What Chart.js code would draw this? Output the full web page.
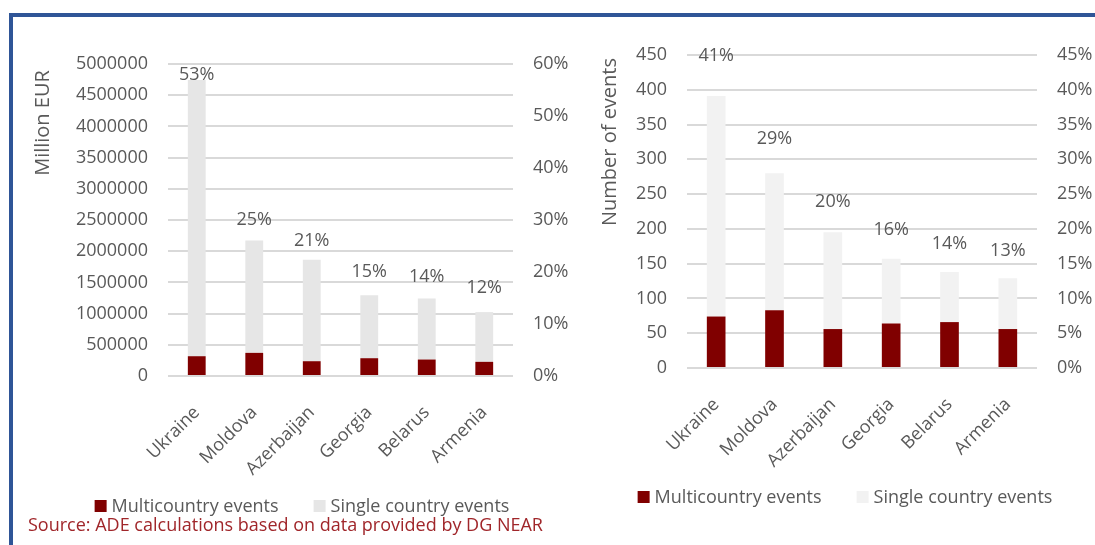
<!DOCTYPE html>
<html>
<head>
<meta charset="utf-8">
<script src="https://cdn.jsdelivr.net/npm/chart.js@4.4.1/dist/chart.umd.min.js"></script>
<style>
  body { margin: 0; background: #fff; width: 1095px; height: 545px; overflow: hidden; position: relative; font-family: 'Open Sans', sans-serif; }
  .frame { position: absolute; left: 9px; top: 13px; right: 0; bottom: 0; border-top: 4px solid #2F5597; border-left: 4px solid #2F5597; }
  #fundsChart { position: absolute; left: 0; top: 0; }
  #eventsChart { position: absolute; left: 590px; top: 0; }
  .source { position: absolute; left: 28px; top: 514px; font-size: 18px; line-height: 20px; color: #A0262A; white-space: nowrap; }
</style>
</head>
<body>
<div class="frame"></div>
<canvas id="fundsChart" width="590" height="545"></canvas>
<canvas id="eventsChart" width="505" height="545"></canvas>
<div class="source">Source: ADE calculations based on data provided by DG NEAR</div>

<script>
// categories shared by both charts
const countries = ['Ukraine', 'Moldova', 'Azerbaijan', 'Georgia', 'Belarus', 'Armenia'];

// left chart: funding (EUR)
const fundsMulti = [317000, 371000, 237000, 285000, 264000, 227000];
const fundsSingle = [4427000, 1802000, 1627000, 1008000, 976000, 797000];
const fundsShare = [0.53, 0.25, 0.21, 0.15, 0.14, 0.12];

// right chart: number of events
const eventsMulti = [74, 83, 56, 64, 66, 56];
const eventsSingle = [317, 197, 139, 93, 72, 73];
const eventsShare = [0.41, 0.29, 0.20, 0.16, 0.14, 0.13];

const legendLabels = ['Multicountry events', 'Single country events'];
const TEXT = '#595959';
const GRID = '#D9D9D9';

Chart.defaults.font.family = "'Open Sans', sans-serif";
Chart.defaults.font.size = 18;
Chart.defaults.color = TEXT;

// share labels above the hidden points, rotated axis title, and a legend
const extrasPlugin = {
    id: 'extras',
    afterDatasetsDraw(chart, args, opts) {
        const ctx = chart.ctx;
        ctx.save();
        ctx.fillStyle = TEXT;
        ctx.textAlign = 'center';
        ctx.textBaseline = 'middle';
        ctx.font = "18px 'Open Sans'";
        chart.data.datasets.forEach((ds, i) => {
            if (ds.type !== 'line') return;
            chart.getDatasetMeta(i).data.forEach((pt, j) => {
                ctx.fillText(Math.round(ds.data[j] * 100) + '%', pt.x, pt.y - opts.labelLift);
            });
        });

        // y axis title
        ctx.save();
        ctx.translate(opts.titleX, opts.titleY);
        ctx.rotate(-Math.PI / 2);
        ctx.font = "20px 'Open Sans'";
        ctx.fillText(opts.title, 0, 0);
        ctx.restore();

        // legend
        const bars = chart.data.datasets.filter(ds => ds.type !== 'line');
        const box = 12, gap = 5, spacing = 35;
        ctx.font = "18px 'Open Sans'";
        const widths = bars.map(ds => box + gap + ctx.measureText(ds.label).width);
        const total = widths.reduce((a, b) => a + b, 0) + spacing * (bars.length - 1);
        let x = opts.legendX - total / 2;
        ctx.textAlign = 'left';
        bars.forEach((ds, i) => {
            ctx.fillStyle = ds.backgroundColor;
            ctx.fillRect(x, opts.legendY - box / 2, box, box);
            ctx.fillStyle = TEXT;
            ctx.fillText(ds.label, x + box + gap, opts.legendY + 1);
            x += widths[i] + spacing;
        });
        ctx.restore();
    }
};

function buildChart(canvasId, s) {
    const ctx = document.getElementById(canvasId).getContext('2d');
    return new Chart(ctx, {
        type: 'bar',
        data: {
            labels: countries,
            datasets: [
                {
                    label: legendLabels[0],
                    data: s.multi,
                    backgroundColor: '#800000',
                    barPercentage: s.barPct,
                    categoryPercentage: 1,
                    yAxisID: 'y'
                },
                {
                    label: legendLabels[1],
                    data: s.single,
                    backgroundColor: s.singleColor,
                    barPercentage: s.barPct,
                    categoryPercentage: 1,
                    yAxisID: 'y'
                },
                {
                    type: 'line',
                    label: 'Share',
                    data: s.share,
                    yAxisID: 'y1',
                    showLine: false,
                    pointRadius: 0,
                    pointHoverRadius: 0
                }
            ]
        },
        options: {
            responsive: false,
            animation: false,
            layout: { padding: s.padding },
            plugins: {
                legend: { display: false },
                tooltip: { enabled: false },
                extras: s.extras
            },
            scales: {
                x: {
                    stacked: true,
                    grid: { display: false },
                    border: { display: false },
                    ticks: { autoSkip: false, maxRotation: 45, minRotation: 45, padding: 18 },
                    afterFit: scale => { scale.height = 100; }
                },
                y: {
                    stacked: true,
                    min: 0,
                    max: s.yMax,
                    grid: { color: GRID, lineWidth: 2, drawTicks: false },
                    border: { display: false },
                    ticks: { stepSize: s.yStep, padding: 20, callback: v => String(v) },
                    afterFit: scale => { scale.width = s.yWidth; }
                },
                y1: {
                    position: 'right',
                    min: 0,
                    max: s.y1Max,
                    grid: { display: false, drawTicks: false },
                    border: { display: false },
                    ticks: { stepSize: s.y1Step, padding: 20, callback: v => Math.round(v * 100) + '%' },
                    afterFit: scale => { scale.width = s.y1Width; }
                }
            }
        },
        plugins: [extrasPlugin]
    });
}

buildChart('fundsChart', {
    multi: fundsMulti,
    single: fundsSingle,
    share: fundsShare,
    singleColor: '#E6E6E6',
    barPct: 0.31,
    yMax: 5000000,
    yStep: 500000,
    y1Max: 0.6,
    y1Step: 0.1,
    yWidth: 148,
    y1Width: 77,
    padding: { left: 20, top: 64, right: 0, bottom: 69 },
    extras: { labelLift: 26, title: 'Million EUR', titleX: 43, titleY: 123, legendX: 302, legendY: 506 }
});

buildChart('eventsChart', {
    multi: eventsMulti,
    single: eventsSingle,
    share: eventsShare,
    singleColor: '#F2F2F2',
    barPct: 0.32,
    yMax: 450,
    yStep: 50,
    y1Max: 0.45,
    y1Step: 0.05,
    yWidth: 97,
    y1Width: 58,
    padding: { left: 0, top: 55, right: 0, bottom: 77 },
    extras: { labelLift: 27, title: 'Number of events', titleX: 20, titleY: 142, legendX: 255, legendY: 497 }
});
</script>
</body>
</html>
